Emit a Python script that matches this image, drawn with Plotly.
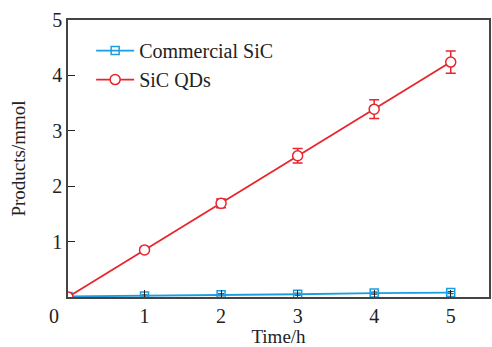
import plotly.graph_objects as go

time_h = [0, 1, 2, 3, 4, 5]

commercial_sic = [0.01, 0.02, 0.04, 0.05, 0.07, 0.08]
commercial_err = [0.0, 0.02, 0.02, 0.02, 0.02, 0.02]

sic_qds = [0.0, 0.85, 1.69, 2.55, 3.39, 4.24]
sic_qds_err = [0.0, 0.03, 0.08, 0.13, 0.17, 0.20]

tick_vals = [1, 2, 3, 4, 5]

BLUE = "#1a9ee0"
RED = "#e8242c"
FONT = "Liberation Serif"

fig = go.Figure()

fig.add_trace(go.Scatter(
    x=time_h, y=commercial_sic, name="Commercial SiC",
    mode="lines+markers",
    line=dict(color=BLUE, width=1.8),
    marker=dict(symbol="square-open", size=8, color=BLUE, line=dict(width=1.5)),
    error_y=dict(type="data", array=commercial_err, visible=True,
                 color="#333333", thickness=1, width=3),
))

fig.add_trace(go.Scatter(
    x=time_h, y=sic_qds, name="SiC QDs",
    mode="lines+markers",
    line=dict(color=RED, width=1.8),
    marker=dict(symbol="circle", size=10, color="white",
                line=dict(color=RED, width=1.5)),
    error_y=dict(type="data", array=sic_qds_err, visible=True,
                 color=RED, thickness=1.5, width=5),
))

axis_common = dict(
    showline=True, linecolor="#444444", linewidth=1.5, mirror=True,
    ticks="inside", ticklen=7, tickwidth=1.3, tickcolor="#222222",
    showgrid=False, zeroline=False,
    tickfont=dict(family=FONT, size=20, color="#222222"),
)

fig.update_layout(
    width=492, height=347,
    margin=dict(l=68, r=1, t=20, b=50),
    plot_bgcolor="white", paper_bgcolor="white",
    font=dict(family=FONT, size=18, color="#222222"),
    xaxis=dict(range=[0, 5.5], tickvals=tick_vals,
               title=dict(text="Time/h", font=dict(family=FONT, size=19), standoff=4),
               **axis_common),
    yaxis=dict(range=[0, 5], tickvals=tick_vals,
               title=dict(text="Products/mmol", font=dict(family=FONT, size=19), standoff=22),
               **axis_common),
    legend=dict(x=0.055, y=0.96, xanchor="left", yanchor="top",
                bgcolor="rgba(0,0,0,0)", font=dict(family=FONT, size=20),
                itemwidth=38, tracegroupgap=0),
    showlegend=True,
)

# shared origin label at the corner
fig.add_annotation(x=0, y=0, xref="x", yref="y", text="0", showarrow=False,
                   xanchor="right", yanchor="top", xshift=-7, yshift=-6,
                   font=dict(family=FONT, size=20, color="#222222"))

fig.write_html("out.html")
